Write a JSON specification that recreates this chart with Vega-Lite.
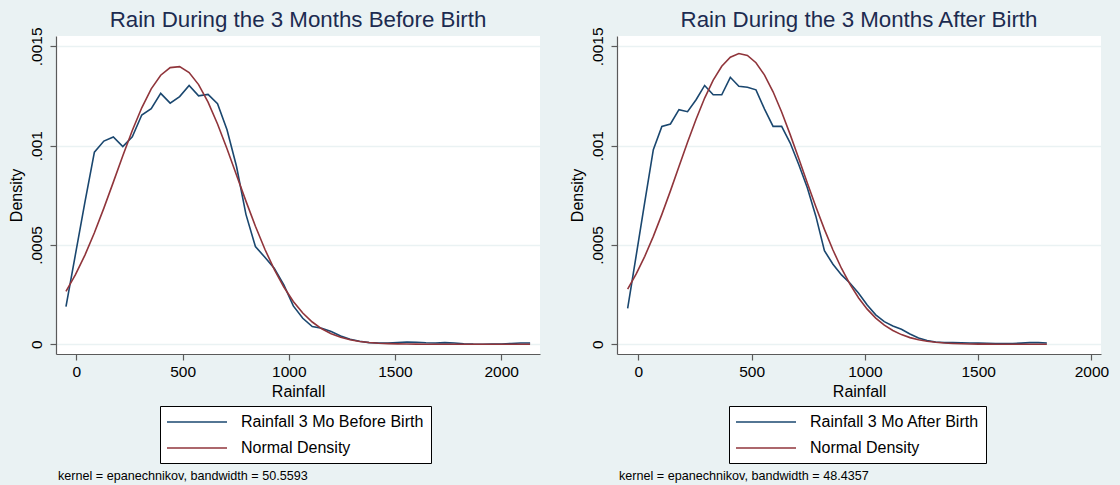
{
  "$schema": "https://vega.github.io/schema/vega-lite/v6.json",
  "background": "#eaf2f3",
  "padding": {"left": 8, "top": 8, "right": 19, "bottom": 4},
  "datasets": {
    "before": [
      {"rain": -49, "density": 0.000189, "series": "Rainfall 3 Mo Before Birth"},
      {"rain": -4.4, "density": 0.000453, "series": "Rainfall 3 Mo Before Birth"},
      {"rain": 40.2, "density": 0.000716, "series": "Rainfall 3 Mo Before Birth"},
      {"rain": 84.8, "density": 0.000967, "series": "Rainfall 3 Mo Before Birth"},
      {"rain": 129.4, "density": 0.001023, "series": "Rainfall 3 Mo Before Birth"},
      {"rain": 174, "density": 0.001044, "series": "Rainfall 3 Mo Before Birth"},
      {"rain": 218.6, "density": 0.000995, "series": "Rainfall 3 Mo Before Birth"},
      {"rain": 263.2, "density": 0.001044, "series": "Rainfall 3 Mo Before Birth"},
      {"rain": 307.8, "density": 0.001154, "series": "Rainfall 3 Mo Before Birth"},
      {"rain": 352.4, "density": 0.001186, "series": "Rainfall 3 Mo Before Birth"},
      {"rain": 397, "density": 0.001263, "series": "Rainfall 3 Mo Before Birth"},
      {"rain": 441.6, "density": 0.001214, "series": "Rainfall 3 Mo Before Birth"},
      {"rain": 486.2, "density": 0.001247, "series": "Rainfall 3 Mo Before Birth"},
      {"rain": 530.8, "density": 0.001303, "series": "Rainfall 3 Mo Before Birth"},
      {"rain": 575.4, "density": 0.001251, "series": "Rainfall 3 Mo Before Birth"},
      {"rain": 620, "density": 0.001258, "series": "Rainfall 3 Mo Before Birth"},
      {"rain": 664.6, "density": 0.001211, "series": "Rainfall 3 Mo Before Birth"},
      {"rain": 709.2, "density": 0.00108, "series": "Rainfall 3 Mo Before Birth"},
      {"rain": 753.8, "density": 0.000896, "series": "Rainfall 3 Mo Before Birth"},
      {"rain": 798.4, "density": 0.000654, "series": "Rainfall 3 Mo Before Birth"},
      {"rain": 843, "density": 0.000492, "series": "Rainfall 3 Mo Before Birth"},
      {"rain": 887.6, "density": 0.000438, "series": "Rainfall 3 Mo Before Birth"},
      {"rain": 932.2, "density": 0.000382, "series": "Rainfall 3 Mo Before Birth"},
      {"rain": 976.8, "density": 0.000299, "series": "Rainfall 3 Mo Before Birth"},
      {"rain": 1021.4, "density": 0.000193, "series": "Rainfall 3 Mo Before Birth"},
      {"rain": 1066, "density": 0.000131, "series": "Rainfall 3 Mo Before Birth"},
      {"rain": 1110.6, "density": 0.0000889, "series": "Rainfall 3 Mo Before Birth"},
      {"rain": 1155.2, "density": 0.0000805, "series": "Rainfall 3 Mo Before Birth"},
      {"rain": 1199.8, "density": 0.0000637, "series": "Rainfall 3 Mo Before Birth"},
      {"rain": 1244.4, "density": 0.000042, "series": "Rainfall 3 Mo Before Birth"},
      {"rain": 1289, "density": 0.000025, "series": "Rainfall 3 Mo Before Birth"},
      {"rain": 1333.6, "density": 0.000015, "series": "Rainfall 3 Mo Before Birth"},
      {"rain": 1378.2, "density": 0.0000084, "series": "Rainfall 3 Mo Before Birth"},
      {"rain": 1422.8, "density": 0.0000067, "series": "Rainfall 3 Mo Before Birth"},
      {"rain": 1467.4, "density": 0.0000067, "series": "Rainfall 3 Mo Before Birth"},
      {"rain": 1512, "density": 0.0000092, "series": "Rainfall 3 Mo Before Birth"},
      {"rain": 1556.6, "density": 0.0000117, "series": "Rainfall 3 Mo Before Birth"},
      {"rain": 1601.2, "density": 0.00001, "series": "Rainfall 3 Mo Before Birth"},
      {"rain": 1645.8, "density": 0.0000075, "series": "Rainfall 3 Mo Before Birth"},
      {"rain": 1690.4, "density": 0.0000067, "series": "Rainfall 3 Mo Before Birth"},
      {"rain": 1735, "density": 0.0000084, "series": "Rainfall 3 Mo Before Birth"},
      {"rain": 1779.6, "density": 0.0000067, "series": "Rainfall 3 Mo Before Birth"},
      {"rain": 1824.2, "density": 0.0000025, "series": "Rainfall 3 Mo Before Birth"},
      {"rain": 1868.8, "density": 0.0000005, "series": "Rainfall 3 Mo Before Birth"},
      {"rain": 1913.4, "density": 0, "series": "Rainfall 3 Mo Before Birth"},
      {"rain": 1958, "density": 0.0000005, "series": "Rainfall 3 Mo Before Birth"},
      {"rain": 2002.6, "density": 0.0000017, "series": "Rainfall 3 Mo Before Birth"},
      {"rain": 2047.2, "density": 0.000004, "series": "Rainfall 3 Mo Before Birth"},
      {"rain": 2091.8, "density": 0.0000067, "series": "Rainfall 3 Mo Before Birth"},
      {"rain": 2136.4, "density": 0.0000062, "series": "Rainfall 3 Mo Before Birth"},
      {"rain": -49, "density": 0.0002667, "series": "Normal Density"},
      {"rain": -4.4, "density": 0.0003503, "series": "Normal Density"},
      {"rain": 40.2, "density": 0.0004489, "series": "Normal Density"},
      {"rain": 84.8, "density": 0.0005615, "series": "Normal Density"},
      {"rain": 129.4, "density": 0.0006854, "series": "Normal Density"},
      {"rain": 174, "density": 0.0008163, "series": "Normal Density"},
      {"rain": 218.6, "density": 0.0009486, "series": "Normal Density"},
      {"rain": 263.2, "density": 0.0010759, "series": "Normal Density"},
      {"rain": 307.8, "density": 0.0011905, "series": "Normal Density"},
      {"rain": 352.4, "density": 0.0012856, "series": "Normal Density"},
      {"rain": 397, "density": 0.0013546, "series": "Normal Density"},
      {"rain": 441.6, "density": 0.0013929, "series": "Normal Density"},
      {"rain": 486.2, "density": 0.0013975, "series": "Normal Density"},
      {"rain": 530.8, "density": 0.0013683, "series": "Normal Density"},
      {"rain": 575.4, "density": 0.0013073, "series": "Normal Density"},
      {"rain": 620, "density": 0.0012188, "series": "Normal Density"},
      {"rain": 664.6, "density": 0.0011088, "series": "Normal Density"},
      {"rain": 709.2, "density": 0.0009843, "series": "Normal Density"},
      {"rain": 753.8, "density": 0.0008526, "series": "Normal Density"},
      {"rain": 798.4, "density": 0.0007207, "series": "Normal Density"},
      {"rain": 843, "density": 0.0005944, "series": "Normal Density"},
      {"rain": 887.6, "density": 0.0004784, "series": "Normal Density"},
      {"rain": 932.2, "density": 0.0003758, "series": "Normal Density"},
      {"rain": 976.8, "density": 0.000288, "series": "Normal Density"},
      {"rain": 1021.4, "density": 0.0002154, "series": "Normal Density"},
      {"rain": 1066, "density": 0.0001572, "series": "Normal Density"},
      {"rain": 1110.6, "density": 0.000112, "series": "Normal Density"},
      {"rain": 1155.2, "density": 0.0000778, "series": "Normal Density"},
      {"rain": 1199.8, "density": 0.0000527, "series": "Normal Density"},
      {"rain": 1244.4, "density": 0.0000349, "series": "Normal Density"},
      {"rain": 1289, "density": 0.0000225, "series": "Normal Density"},
      {"rain": 1333.6, "density": 0.0000142, "series": "Normal Density"},
      {"rain": 1378.2, "density": 0.0000087, "series": "Normal Density"},
      {"rain": 1422.8, "density": 0.0000052, "series": "Normal Density"},
      {"rain": 1467.4, "density": 0.0000031, "series": "Normal Density"},
      {"rain": 1512, "density": 0.0000018, "series": "Normal Density"},
      {"rain": 1556.6, "density": 0.000001, "series": "Normal Density"},
      {"rain": 1601.2, "density": 0.0000005, "series": "Normal Density"},
      {"rain": 1645.8, "density": 0.0000003, "series": "Normal Density"},
      {"rain": 1690.4, "density": 0.0000001, "series": "Normal Density"},
      {"rain": 1735, "density": 0, "series": "Normal Density"},
      {"rain": 1779.6, "density": 0, "series": "Normal Density"},
      {"rain": 1824.2, "density": 0, "series": "Normal Density"},
      {"rain": 1868.8, "density": 0, "series": "Normal Density"},
      {"rain": 1913.4, "density": 0, "series": "Normal Density"},
      {"rain": 1958, "density": 0, "series": "Normal Density"},
      {"rain": 2002.6, "density": 0, "series": "Normal Density"},
      {"rain": 2047.2, "density": 0, "series": "Normal Density"},
      {"rain": 2091.8, "density": 0, "series": "Normal Density"},
      {"rain": 2136.4, "density": 0, "series": "Normal Density"}
    ],
    "after": [
      {"rain": -47, "density": 0.000181, "series": "Rainfall 3 Mo After Birth"},
      {"rain": -9.2, "density": 0.000448, "series": "Rainfall 3 Mo After Birth"},
      {"rain": 28.5, "density": 0.000716, "series": "Rainfall 3 Mo After Birth"},
      {"rain": 66.3, "density": 0.00098, "series": "Rainfall 3 Mo After Birth"},
      {"rain": 104, "density": 0.001097, "series": "Rainfall 3 Mo After Birth"},
      {"rain": 141.8, "density": 0.001109, "series": "Rainfall 3 Mo After Birth"},
      {"rain": 179.5, "density": 0.001181, "series": "Rainfall 3 Mo After Birth"},
      {"rain": 217.3, "density": 0.001171, "series": "Rainfall 3 Mo After Birth"},
      {"rain": 255, "density": 0.001231, "series": "Rainfall 3 Mo After Birth"},
      {"rain": 292.8, "density": 0.001303, "series": "Rainfall 3 Mo After Birth"},
      {"rain": 330.6, "density": 0.001256, "series": "Rainfall 3 Mo After Birth"},
      {"rain": 368.3, "density": 0.001256, "series": "Rainfall 3 Mo After Birth"},
      {"rain": 406.1, "density": 0.001344, "series": "Rainfall 3 Mo After Birth"},
      {"rain": 443.8, "density": 0.001299, "series": "Rainfall 3 Mo After Birth"},
      {"rain": 481.6, "density": 0.001294, "series": "Rainfall 3 Mo After Birth"},
      {"rain": 519.3, "density": 0.001281, "series": "Rainfall 3 Mo After Birth"},
      {"rain": 557.1, "density": 0.001184, "series": "Rainfall 3 Mo After Birth"},
      {"rain": 594.8, "density": 0.001097, "series": "Rainfall 3 Mo After Birth"},
      {"rain": 632.6, "density": 0.001097, "series": "Rainfall 3 Mo After Birth"},
      {"rain": 670.4, "density": 0.001013, "series": "Rainfall 3 Mo After Birth"},
      {"rain": 708.1, "density": 0.000905, "series": "Rainfall 3 Mo After Birth"},
      {"rain": 745.9, "density": 0.000788, "series": "Rainfall 3 Mo After Birth"},
      {"rain": 783.6, "density": 0.000645, "series": "Rainfall 3 Mo After Birth"},
      {"rain": 821.4, "density": 0.000471, "series": "Rainfall 3 Mo After Birth"},
      {"rain": 859.1, "density": 0.000403, "series": "Rainfall 3 Mo After Birth"},
      {"rain": 896.9, "density": 0.000349, "series": "Rainfall 3 Mo After Birth"},
      {"rain": 934.6, "density": 0.000307, "series": "Rainfall 3 Mo After Birth"},
      {"rain": 972.4, "density": 0.000257, "series": "Rainfall 3 Mo After Birth"},
      {"rain": 1010.2, "density": 0.000198, "series": "Rainfall 3 Mo After Birth"},
      {"rain": 1047.9, "density": 0.000148, "series": "Rainfall 3 Mo After Birth"},
      {"rain": 1085.7, "density": 0.000114, "series": "Rainfall 3 Mo After Birth"},
      {"rain": 1123.4, "density": 0.0000923, "series": "Rainfall 3 Mo After Birth"},
      {"rain": 1161.2, "density": 0.0000755, "series": "Rainfall 3 Mo After Birth"},
      {"rain": 1198.9, "density": 0.000052, "series": "Rainfall 3 Mo After Birth"},
      {"rain": 1236.7, "density": 0.0000319, "series": "Rainfall 3 Mo After Birth"},
      {"rain": 1274.4, "density": 0.0000185, "series": "Rainfall 3 Mo After Birth"},
      {"rain": 1312.2, "density": 0.0000117, "series": "Rainfall 3 Mo After Birth"},
      {"rain": 1350, "density": 0.0000092, "series": "Rainfall 3 Mo After Birth"},
      {"rain": 1387.7, "density": 0.0000084, "series": "Rainfall 3 Mo After Birth"},
      {"rain": 1425.5, "density": 0.0000075, "series": "Rainfall 3 Mo After Birth"},
      {"rain": 1463.2, "density": 0.0000067, "series": "Rainfall 3 Mo After Birth"},
      {"rain": 1501, "density": 0.0000059, "series": "Rainfall 3 Mo After Birth"},
      {"rain": 1538.7, "density": 0.000005, "series": "Rainfall 3 Mo After Birth"},
      {"rain": 1576.5, "density": 0.0000042, "series": "Rainfall 3 Mo After Birth"},
      {"rain": 1614.3, "density": 0.0000034, "series": "Rainfall 3 Mo After Birth"},
      {"rain": 1652, "density": 0.0000034, "series": "Rainfall 3 Mo After Birth"},
      {"rain": 1689.8, "density": 0.0000059, "series": "Rainfall 3 Mo After Birth"},
      {"rain": 1727.5, "density": 0.0000084, "series": "Rainfall 3 Mo After Birth"},
      {"rain": 1765.3, "density": 0.0000084, "series": "Rainfall 3 Mo After Birth"},
      {"rain": 1803, "density": 0.0000067, "series": "Rainfall 3 Mo After Birth"},
      {"rain": -47, "density": 0.0002775, "series": "Normal Density"},
      {"rain": -9.2, "density": 0.0003539, "series": "Normal Density"},
      {"rain": 28.5, "density": 0.0004426, "series": "Normal Density"},
      {"rain": 66.3, "density": 0.0005432, "series": "Normal Density"},
      {"rain": 104, "density": 0.0006538, "series": "Normal Density"},
      {"rain": 141.8, "density": 0.0007723, "series": "Normal Density"},
      {"rain": 179.5, "density": 0.0008945, "series": "Normal Density"},
      {"rain": 217.3, "density": 0.0010167, "series": "Normal Density"},
      {"rain": 255, "density": 0.0011333, "series": "Normal Density"},
      {"rain": 292.8, "density": 0.0012396, "series": "Normal Density"},
      {"rain": 330.6, "density": 0.00133, "series": "Normal Density"},
      {"rain": 368.3, "density": 0.0013997, "series": "Normal Density"},
      {"rain": 406.1, "density": 0.0014451, "series": "Normal Density"},
      {"rain": 443.8, "density": 0.0014636, "series": "Normal Density"},
      {"rain": 481.6, "density": 0.0014542, "series": "Normal Density"},
      {"rain": 519.3, "density": 0.0014174, "series": "Normal Density"},
      {"rain": 557.1, "density": 0.0013552, "series": "Normal Density"},
      {"rain": 594.8, "density": 0.0012712, "series": "Normal Density"},
      {"rain": 632.6, "density": 0.0011696, "series": "Normal Density"},
      {"rain": 670.4, "density": 0.0010556, "series": "Normal Density"},
      {"rain": 708.1, "density": 0.0009348, "series": "Normal Density"},
      {"rain": 745.9, "density": 0.0008119, "series": "Normal Density"},
      {"rain": 783.6, "density": 0.000692, "series": "Normal Density"},
      {"rain": 821.4, "density": 0.0005783, "series": "Normal Density"},
      {"rain": 859.1, "density": 0.0004744, "series": "Normal Density"},
      {"rain": 896.9, "density": 0.0003815, "series": "Normal Density"},
      {"rain": 934.6, "density": 0.0003012, "series": "Normal Density"},
      {"rain": 972.4, "density": 0.000233, "series": "Normal Density"},
      {"rain": 1010.2, "density": 0.0001769, "series": "Normal Density"},
      {"rain": 1047.9, "density": 0.0001319, "series": "Normal Density"},
      {"rain": 1085.7, "density": 0.0000963, "series": "Normal Density"},
      {"rain": 1123.4, "density": 0.0000691, "series": "Normal Density"},
      {"rain": 1161.2, "density": 0.0000486, "series": "Normal Density"},
      {"rain": 1198.9, "density": 0.0000335, "series": "Normal Density"},
      {"rain": 1236.7, "density": 0.0000227, "series": "Normal Density"},
      {"rain": 1274.4, "density": 0.0000151, "series": "Normal Density"},
      {"rain": 1312.2, "density": 0.0000098, "series": "Normal Density"},
      {"rain": 1350, "density": 0.0000063, "series": "Normal Density"},
      {"rain": 1387.7, "density": 0.0000039, "series": "Normal Density"},
      {"rain": 1425.5, "density": 0.0000024, "series": "Normal Density"},
      {"rain": 1463.2, "density": 0.0000015, "series": "Normal Density"},
      {"rain": 1501, "density": 0.0000009, "series": "Normal Density"},
      {"rain": 1538.7, "density": 0.0000005, "series": "Normal Density"},
      {"rain": 1576.5, "density": 0.0000003, "series": "Normal Density"},
      {"rain": 1614.3, "density": 0.0000002, "series": "Normal Density"},
      {"rain": 1652, "density": 0.0000001, "series": "Normal Density"},
      {"rain": 1689.8, "density": 0, "series": "Normal Density"},
      {"rain": 1727.5, "density": 0, "series": "Normal Density"},
      {"rain": 1765.3, "density": 0, "series": "Normal Density"},
      {"rain": 1803, "density": 0, "series": "Normal Density"}
    ]
  },
  "hconcat": [
    {
      "title": {"text": "kernel = epanechnikov, bandwidth = 50.5593", "orient": "bottom", "anchor": "start", "frame": "group", "fontSize": 12.6, "color": "#000000", "fontWeight": "normal", "baseline": "alphabetic", "offset": 16, "dx": 2},
      "resolve": {"scale": {"color": "independent"}, "legend": {"color": "independent"}},
      "vconcat": [
        {
          "width": 484,
          "height": 318,
          "title": {"text": "Rain During the 3 Months Before Birth"},
          "data": {"name": "before"},
          "mark": {"type": "line", "strokeWidth": 1.6, "clip": true},
          "encoding": {
            "x": {"field": "rain", "type": "quantitative", "title": "Rainfall",
                  "scale": {"domain": [-96, 2183], "nice": false, "zero": false},
                  "axis": {"values": [0, 500, 1000, 1500, 2000], "format": "d"}},
            "y": {"field": "density", "type": "quantitative", "title": "Density",
                  "scale": {"domain": [-0.000049, 0.001552], "nice": false, "zero": false},
                  "axis": {"values": [0, 0.0005, 0.001, 0.0015], "labelExpr": "replace(format(datum.value, '~g'), '0.', '.')"}},
            "color": {"field": "series", "type": "nominal",
                      "scale": {"domain": ["Rainfall 3 Mo Before Birth", "Normal Density"], "range": ["#1a476f", "#90353b"]},
                      "legend": {"orient": "none", "legendX": 104, "legendY": 370}}
          }
        }
      ]
    },
    {
      "title": {"text": "kernel = epanechnikov, bandwidth = 48.4357", "orient": "bottom", "anchor": "start", "frame": "group", "fontSize": 12.6, "color": "#000000", "fontWeight": "normal", "baseline": "alphabetic", "offset": 16, "dx": 2},
      "resolve": {"scale": {"color": "independent"}, "legend": {"color": "independent"}},
      "vconcat": [
        {
          "width": 484,
          "height": 318,
          "title": {"text": "Rain During the 3 Months After Birth"},
          "data": {"name": "after"},
          "mark": {"type": "line", "strokeWidth": 1.6, "clip": true},
          "encoding": {
            "x": {"field": "rain", "type": "quantitative", "title": "Rainfall",
                  "scale": {"domain": [-94, 2042], "nice": false, "zero": false},
                  "axis": {"values": [0, 500, 1000, 1500, 2000], "format": "d"}},
            "y": {"field": "density", "type": "quantitative", "title": "Density",
                  "scale": {"domain": [-0.000049, 0.001552], "nice": false, "zero": false},
                  "axis": {"values": [0, 0.0005, 0.001, 0.0015], "labelExpr": "replace(format(datum.value, '~g'), '0.', '.')"}},
            "color": {"field": "series", "type": "nominal",
                      "scale": {"domain": ["Rainfall 3 Mo After Birth", "Normal Density"], "range": ["#1a476f", "#90353b"]},
                      "legend": {"orient": "none", "legendX": 112, "legendY": 370}}
          }
        }
      ]
    }
  ],
  "spacing": 29,
  "resolve": {"scale": {"color": "independent"}, "legend": {"color": "independent"}},
  "config": {
    "font": "Liberation Sans",
    "view": {"stroke": null, "fill": "#ffffff"},
    "title": {"fontSize": 22.3, "fontWeight": "normal", "color": "#1c2b50", "anchor": "middle", "frame": "group", "offset": -4},
    "axis": {
      "labelFontSize": 15.5, "titleFontSize": 16, "titleFontWeight": "normal",
      "labelColor": "#000000", "titleColor": "#000000",
      "domainColor": "#5a5a5a", "domainWidth": 1.2,
      "tickColor": "#5a5a5a", "tickWidth": 1.2, "tickSize": 6,
      "grid": false, "labelFlush": false, "labelOverlap": false
    },
    "axisX": {"labelPadding": 4, "titlePadding": 4},
    "axisY": {"grid": true, "gridColor": "#eaf2f3", "gridWidth": 1.5,
              "labelAngle": -90, "labelAlign": "center", "labelBaseline": "bottom",
              "labelPadding": 6, "titlePadding": 5},
    "legend": {
      "title": null, "direction": "vertical",
      "symbolType": "M-3.75,0H3.75", "symbolSize": 256, "symbolStrokeWidth": 1.5, "symbolOffset": 21,
      "labelFontSize": 16, "labelColor": "#000000", "labelOffset": 35, "labelLimit": 400,
      "strokeColor": "#000000", "fillColor": "#ffffff", "padding": 7, "rowPadding": 9
    }
  }
}
